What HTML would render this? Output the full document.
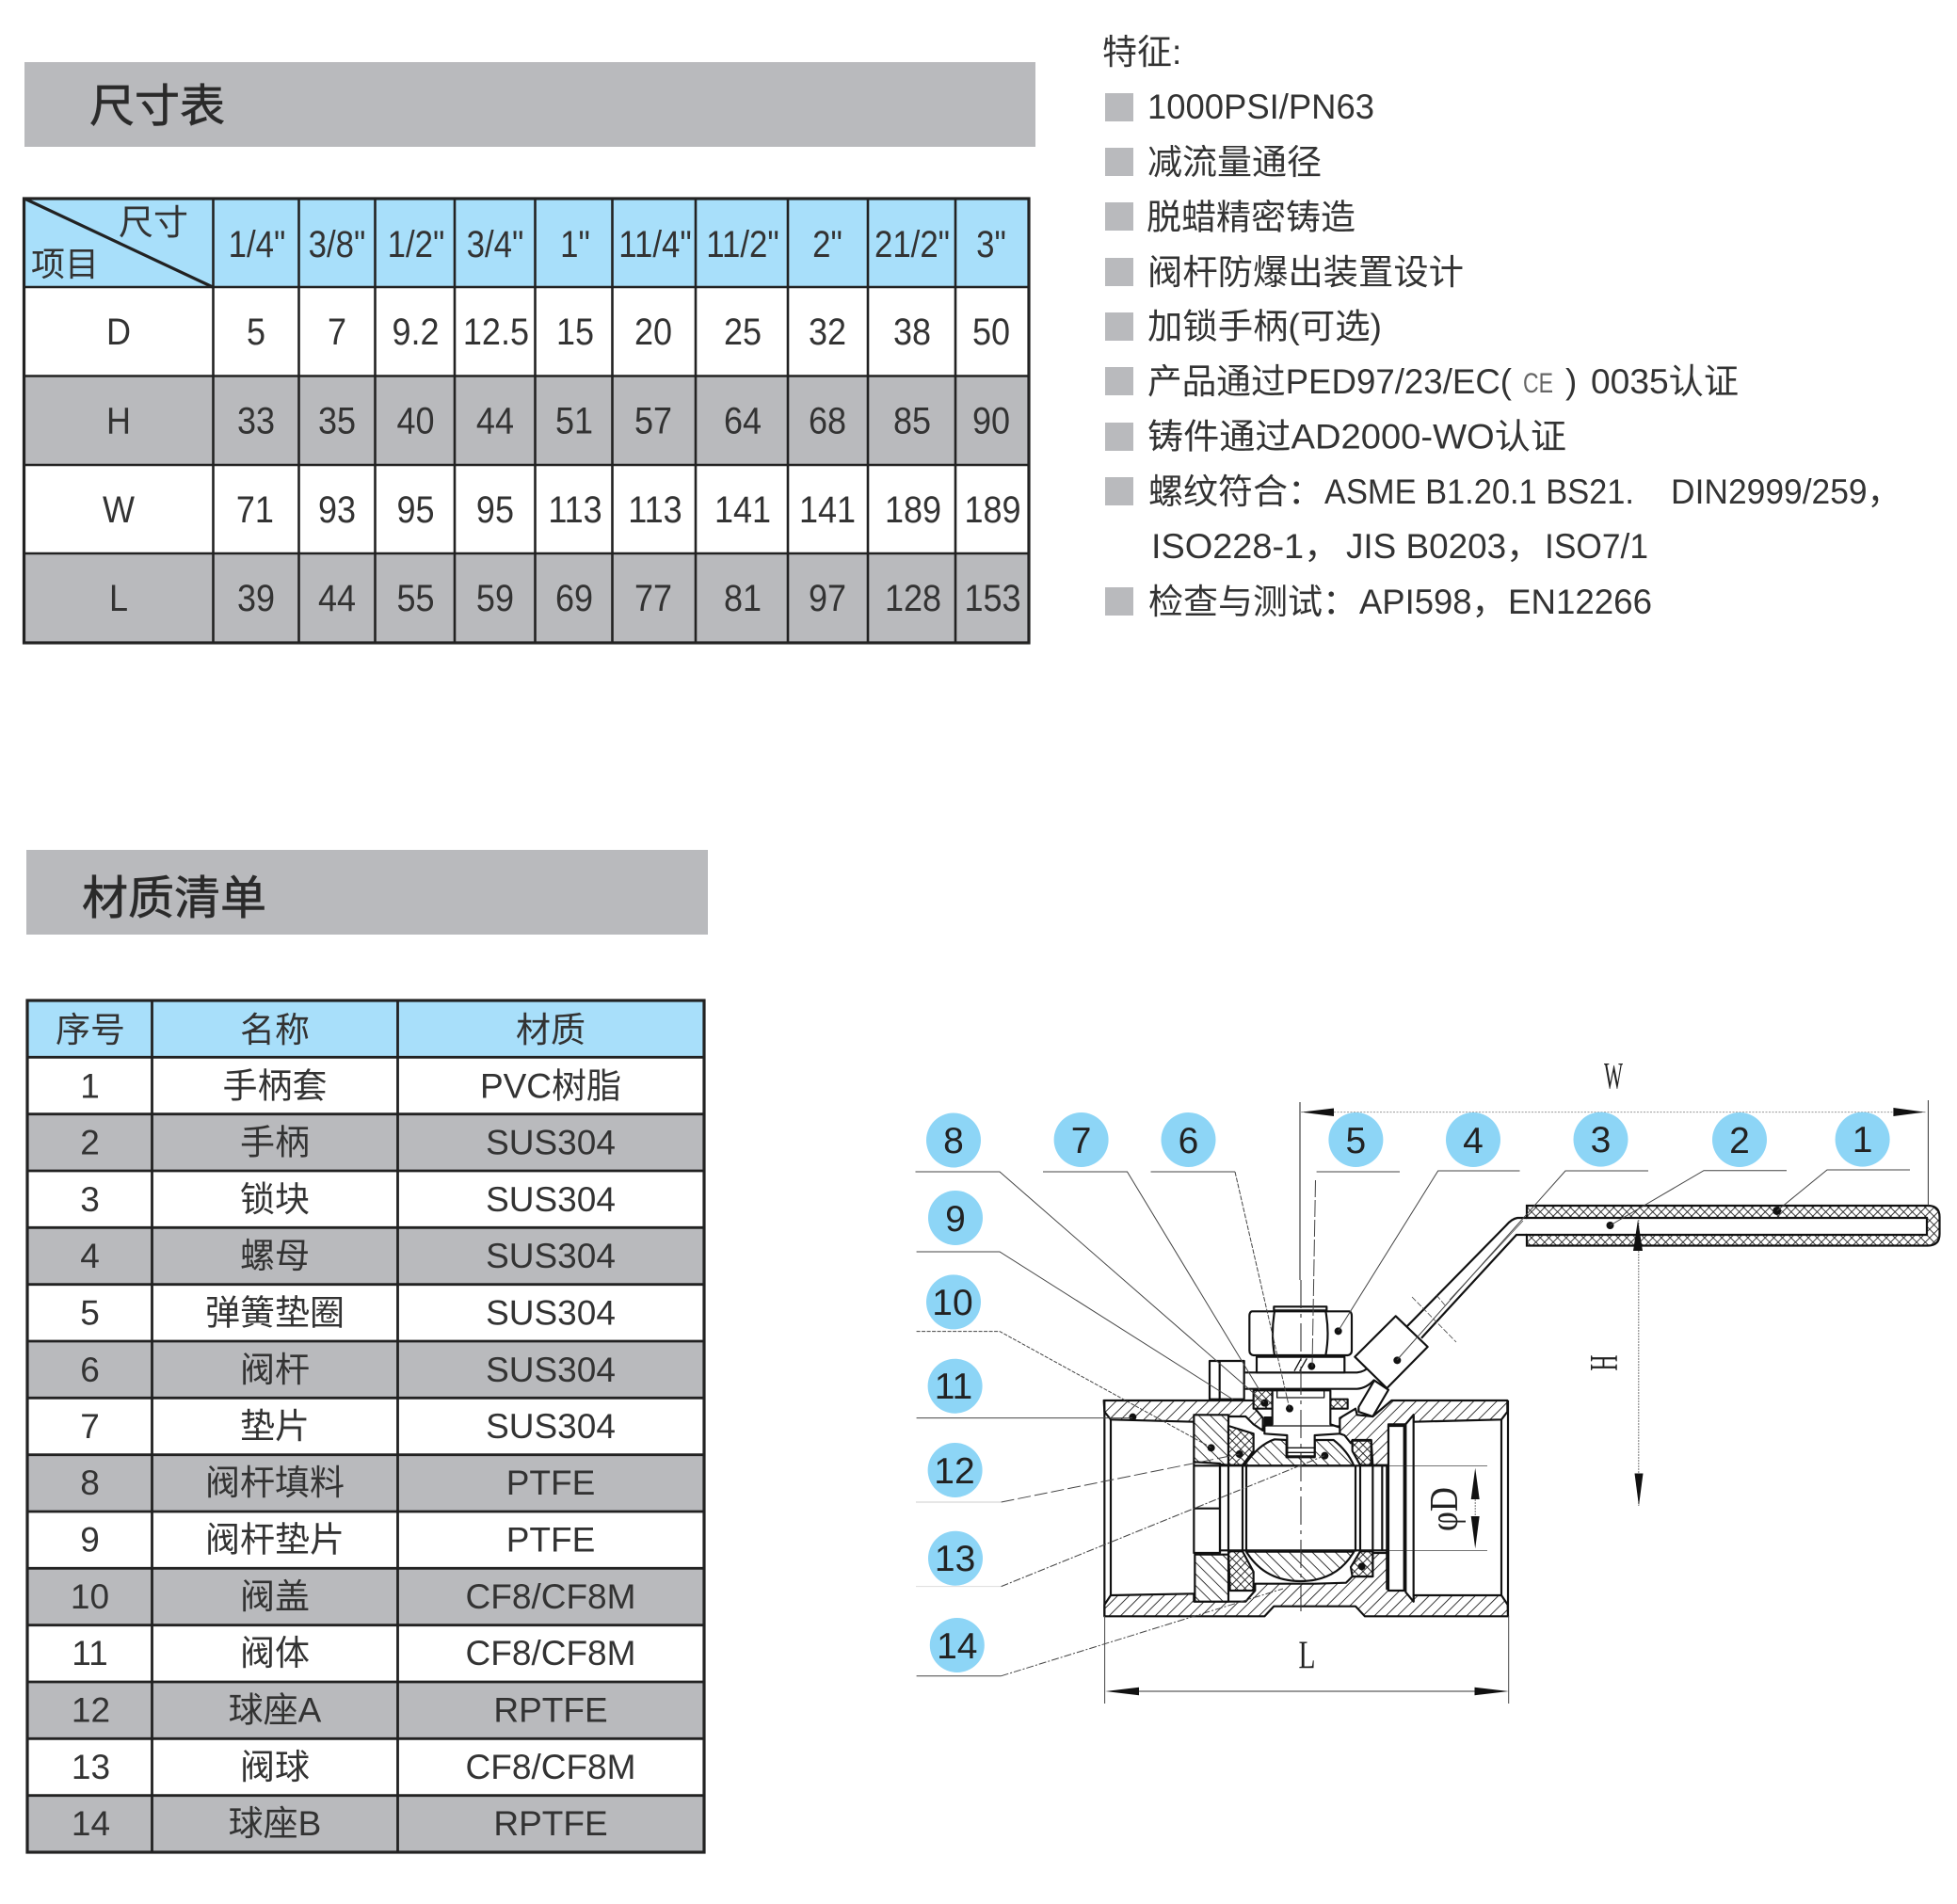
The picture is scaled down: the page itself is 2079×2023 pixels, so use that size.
<!DOCTYPE html>
<html lang="zh">
<head>
<meta charset="utf-8">
<title>尺寸表 材质清单</title>
<style>
html,body{margin:0;padding:0;background:#fff;width:2079px;height:2023px;overflow:hidden}
svg{display:block}
text{font-family:"Liberation Sans","Noto Sans CJK SC",sans-serif;fill:#333}
.serif{font-family:"Liberation Serif",serif;fill:#222}
</style>
</head>
<body>
<svg xmlns="http://www.w3.org/2000/svg" width="2079" height="2023" viewBox="0 0 2079 2023">
<defs>
<pattern id="hf" width="26" height="26" patternUnits="userSpaceOnUse" patternTransform="rotate(-45)"><rect width="26" height="26" fill="#fff"/><line x1="0" y1="1" x2="26" y2="1" stroke="#111" stroke-width="3"/></pattern>
<pattern id="hb" width="26" height="26" patternUnits="userSpaceOnUse" patternTransform="rotate(45)"><rect width="26" height="26" fill="#fff"/><line x1="0" y1="1" x2="26" y2="1" stroke="#111" stroke-width="3"/></pattern>
<pattern id="hx" width="19" height="19" patternUnits="userSpaceOnUse" patternTransform="rotate(45)"><rect width="19" height="19" fill="#fff"/><path d="M0 1H19M1 0V19" stroke="#111" stroke-width="3"/></pattern>
<pattern id="px" width="6.5" height="6.5" patternUnits="userSpaceOnUse" patternTransform="rotate(45)"><rect width="6.5" height="6.5" fill="#fff"/><path d="M0 .4H6.5M.4 0V6.5" stroke="#222" stroke-width="1"/></pattern>
</defs>

<!-- Section bars -->
<rect x="26" y="66" width="1074" height="90" fill="#b9babd"/>
<text x="95" y="129" font-size="48" stroke="#2f2f2f" stroke-width=".7" style="fill:#2a2a2a">尺寸表</text>
<rect x="28" y="903" width="724" height="90" fill="#b9babd"/>
<text x="87" y="971" font-size="49" stroke="#2f2f2f" stroke-width=".7" style="fill:#2a2a2a">材质清单</text>

<!-- Size table -->
<rect x="26" y="211" width="1067" height="94" fill="#a8dffa"/>
<rect x="26" y="399.5" width="1067" height="94.5" fill="#b9babd"/>
<rect x="26" y="588" width="1067" height="95" fill="#b9babd"/>
<g stroke="#222" stroke-width="2.6" fill="none">
<path d="M26 305H1093M26 399.5H1093M26 494H1093M26 588H1093"/>
<path d="M226.5 211V683M317.5 211V683M398.5 211V683M483 211V683M568.5 211V683M650.5 211V683M739 211V683M837 211V683M922 211V683M1015 211V683"/>
<rect x="25.5" y="211" width="1067.5" height="472" stroke-width="3.2"/>
<line x1="26" y1="211" x2="226" y2="305" stroke-width="3.2"/>
</g>
<text x="126" y="249" font-size="37">尺寸</text>
<text x="33" y="293" font-size="36">项目</text>
<g transform="scale(.87 1)" font-size="40" text-anchor="middle">
<text y="273" text-anchor="middle"><tspan x="313.8">1/4"</tspan><tspan x="411.5">3/8"</tspan><tspan x="508">1/2"</tspan><tspan x="604.6">3/4"</tspan><tspan x="702.3">1"</tspan><tspan x="800">11/4"</tspan><tspan x="906.9">11/2"</tspan><tspan x="1010.3">2"</tspan><tspan x="1113.8">21/2"</tspan><tspan x="1210.3">3"</tspan></text>
</g>
<g transform="scale(.9 1)" font-size="40" text-anchor="middle">
<text y="366" text-anchor="middle"><tspan x="140">D</tspan><tspan x="302.2">5</tspan><tspan x="397.8">7</tspan><tspan x="490.6">9.2</tspan><tspan x="585.5">12.5</tspan><tspan x="678.9">15</tspan><tspan x="771.1">20</tspan><tspan x="876.7">25</tspan><tspan x="976.7">32</tspan><tspan x="1076.7">38</tspan><tspan x="1170">50</tspan></text>
<text y="460.5" text-anchor="middle"><tspan x="140">H</tspan><tspan x="302.2">33</tspan><tspan x="397.8">35</tspan><tspan x="490.6">40</tspan><tspan x="584.4">44</tspan><tspan x="677.8">51</tspan><tspan x="771.1">57</tspan><tspan x="876.7">64</tspan><tspan x="976.7">68</tspan><tspan x="1076.7">85</tspan><tspan x="1170">90</tspan></text>
<text y="555" text-anchor="middle"><tspan x="140">W</tspan><tspan x="301">71</tspan><tspan x="397.8">93</tspan><tspan x="490.6">95</tspan><tspan x="584.4">95</tspan><tspan x="678.9">113</tspan><tspan x="773.3">113</tspan><tspan x="876.7">141</tspan><tspan x="976.7">141</tspan><tspan x="1077.8">189</tspan><tspan x="1171.7">189</tspan></text>
<text y="649" text-anchor="middle"><tspan x="140">L</tspan><tspan x="302.2">39</tspan><tspan x="397.8">44</tspan><tspan x="490.6">55</tspan><tspan x="584.4">59</tspan><tspan x="677.8">69</tspan><tspan x="771.1">77</tspan><tspan x="876.7">81</tspan><tspan x="976.7">97</tspan><tspan x="1077.8">128</tspan><tspan x="1171.7">153</tspan></text>
</g>

<!-- Features -->
<text x="1171" y="68" font-size="37">特征:</text>
<g fill="#b9babd">
<rect x="1174" y="99" width="30" height="30"/><rect x="1174" y="157" width="30" height="30"/><rect x="1174" y="215" width="30" height="30"/><rect x="1174" y="274" width="30" height="30"/><rect x="1174" y="332" width="30" height="30"/><rect x="1174" y="390" width="30" height="30"/><rect x="1174" y="449" width="30" height="30"/><rect x="1174" y="507" width="30" height="30"/><rect x="1174" y="624" width="30" height="30"/>
</g>
<g font-size="37">
<text x="1219" y="126" textLength="241" lengthAdjust="spacingAndGlyphs">1000PSI/PN63</text>
<text x="1219" y="185">减流量通径</text>
<text x="1218" y="243.5">脱蜡精密铸造</text>
<text x="1219" y="302" textLength="336" lengthAdjust="spacingAndGlyphs">阀杆防爆出装置设计</text>
<text x="1219" y="359.5" textLength="249" lengthAdjust="spacingAndGlyphs">加锁手柄(可选)</text>
<text x="1219" y="418" textLength="387" lengthAdjust="spacingAndGlyphs">产品通过PED97/23/EC(</text>
<text x="1618" y="417" font-size="30" textLength="32" lengthAdjust="spacingAndGlyphs" style="fill:#666">CE</text>
<text x="1663" y="418">)</text>
<text x="1690" y="418" textLength="157" lengthAdjust="spacingAndGlyphs">0035认证</text>
<text x="1219" y="476.5" textLength="445" lengthAdjust="spacingAndGlyphs">铸件通过AD2000-WO认证</text>
<text x="1220" y="535">螺纹符合：</text>
<text x="1407" y="535" textLength="329" lengthAdjust="spacingAndGlyphs">ASME B1.20.1 BS21.</text>
<text x="1775" y="535" textLength="244" lengthAdjust="spacingAndGlyphs">DIN2999/259，</text>
<text x="1223" y="593" textLength="200" lengthAdjust="spacingAndGlyphs">ISO228-1，</text>
<text x="1430" y="593" textLength="207" lengthAdjust="spacingAndGlyphs">JIS B0203，</text>
<text x="1641" y="593" textLength="110" lengthAdjust="spacingAndGlyphs">ISO7/1</text>
<text x="1220" y="652">检查与测试：</text>
<text x="1444" y="652" textLength="156" lengthAdjust="spacingAndGlyphs">API598，</text>
<text x="1602" y="652" textLength="153" lengthAdjust="spacingAndGlyphs">EN12266</text>
</g>

<!-- Materials table -->
<rect x="29" y="1063" width="719" height="60.3" fill="#a8dffa"/>
<g fill="#b9babd">
<rect x="29" y="1183.7" width="719" height="60.3"/><rect x="29" y="1304.3" width="719" height="60.4"/><rect x="29" y="1425" width="719" height="60.3"/><rect x="29" y="1545.7" width="719" height="60.3"/><rect x="29" y="1666.3" width="719" height="60.4"/><rect x="29" y="1787" width="719" height="60.3"/><rect x="29" y="1907.7" width="719" height="60.3"/>
</g>
<g stroke="#222" stroke-width="2.8" fill="none">
<path d="M29 1123.3H748M29 1183.7H748M29 1244H748M29 1304.3H748M29 1364.7H748M29 1425H748M29 1485.3H748M29 1545.7H748M29 1606H748M29 1666.3H748M29 1726.7H748M29 1787H748M29 1847.3H748M29 1907.7H748"/>
<path d="M161.5 1063V1968M422.5 1063V1968"/>
<rect x="29" y="1063" width="719" height="905" stroke-width="3.2"/>
</g>
<g font-size="37" text-anchor="middle">
<text y="1107"><tspan x="96">序号</tspan><tspan x="292">名称</tspan><tspan x="585">材质</tspan></text>
<text y="1166.5"><tspan x="95.5">1</tspan><tspan x="292">手柄套</tspan><tspan x="585">PVC树脂</tspan></text>
<text y="1226.5"><tspan x="95.5">2</tspan><tspan x="292">手柄</tspan><tspan x="585">SUS304</tspan></text>
<text y="1287"><tspan x="95.5">3</tspan><tspan x="292">锁块</tspan><tspan x="585">SUS304</tspan></text>
<text y="1347"><tspan x="95.5">4</tspan><tspan x="292">螺母</tspan><tspan x="585">SUS304</tspan></text>
<text y="1407.5"><tspan x="95.5">5</tspan><tspan x="292">弹簧垫圈</tspan><tspan x="585">SUS304</tspan></text>
<text y="1468"><tspan x="95.5">6</tspan><tspan x="292">阀杆</tspan><tspan x="585">SUS304</tspan></text>
<text y="1528"><tspan x="95.5">7</tspan><tspan x="292">垫片</tspan><tspan x="585">SUS304</tspan></text>
<text y="1588"><tspan x="95.5">8</tspan><tspan x="292">阀杆填料</tspan><tspan x="585">PTFE</tspan></text>
<text y="1648.5"><tspan x="95.5">9</tspan><tspan x="292">阀杆垫片</tspan><tspan x="585">PTFE</tspan></text>
<text y="1709"><tspan x="95.5">10</tspan><tspan x="292">阀盖</tspan><tspan x="585">CF8/CF8M</tspan></text>
<text y="1769"><tspan x="95.5">11</tspan><tspan x="292">阀体</tspan><tspan x="585">CF8/CF8M</tspan></text>
<text y="1829.5"><tspan x="96.5">12</tspan><tspan x="292">球座A</tspan><tspan x="585">RPTFE</tspan></text>
<text y="1890"><tspan x="96.5">13</tspan><tspan x="292">阀球</tspan><tspan x="585">CF8/CF8M</tspan></text>
<text y="1950"><tspan x="96.5">14</tspan><tspan x="292">球座B</tspan><tspan x="585">RPTFE</tspan></text>
</g>

<!-- Handle sleeve -->
<path d="M1622 1281H2048Q2060.5 1281 2060.5 1293V1311Q2060.5 1323.5 2048 1323.5H1622V1312H2047V1294H1622Z" fill="url(#px)" stroke="#111" stroke-width="2.2"/>
<g fill="none" stroke="#111" stroke-width="2.2">
<path d="M1622 1294H1612Q1606 1295 1600 1302L1495 1409"/>
<path d="M1622 1312H1611L1510 1421.7"/>
</g>
<path d="M1618 1297L1540 1381" stroke="#444" stroke-width=".8" fill="none"/>
<path d="M1500 1378L1547 1426M1526 1376L1536 1388" stroke="#444" stroke-width=".8" stroke-dasharray="6 2" fill="none"/>

<!-- Valve (coordinates in 1/3 px) -->
<g transform="translate(1130 1360) scale(.33333)" stroke-linejoin="round">
<g stroke="#111" stroke-width="6.5">
<path d="M128 384H610V410L635 440V480L605 460L580 435H525V458H415V452L150 445L130 420Z" fill="url(#hf)"/>
<path d="M1045 384H1414V420L1395 445L1115 452V430L1090 460H1035V590H985L980 510H920L915 520L895 495L880 490V440L930 410L935 430L985 435Z" fill="url(#hf)"/>
<path d="M130 1072V1035L150 1005L415 1000V1025H580L610 990V968L800 968L900 965L920 945H985V870H1030V985L1090 990L1115 1025V1005H1395L1415 1035L1416 1072H960L930 1040H670L640 1072Z" fill="url(#hf)"/>
<path d="M415 430H525V590L415 580Z" fill="url(#hb)"/>
<path d="M418 875H525V1025H418Z" fill="url(#hb)"/>
<path d="M415 580L498 585V870H415Z" fill="#fff"/>
<path d="M525 465L605 490V545L570 590H525Z" fill="url(#hx)"/>
<path d="M525 865H570L605 930V990H530Z" fill="url(#hx)"/>
<path d="M920 512H980V590H945L920 545Z" fill="url(#hx)"/>
<path d="M945 865H985V945H920L915 915Z" fill="url(#hx)"/>
<path d="M575 592Q620 525 672 508L710 510V565H800V510H860Q905 545 925 592Z" fill="url(#hb)"/>
<path d="M582 866H925Q870 960 755 960Q640 960 582 866Z" fill="url(#hb)"/>
<path d="M605 352H665V410H605Z" fill="url(#hx)"/>
<path d="M850 380H905V410H850Z" fill="url(#hx)"/>
<path d="M665 352H850V460L880 470V490L800 495V562H712V495L640 490V465L665 460Z" fill="#fff"/>
<path d="M680 352V375H830V352M712 535H800M712 550H800M640 465H880" fill="none" stroke-width="4"/>
<path d="M465 258H575V380H465Z" fill="#fff"/>
<path d="M497 258V380" fill="none"/>
<path d="M578 295H935Q960 292 975 275M578 347H935Q965 345 990 318" fill="none"/>
<path d="M615 245H895V295H615Z" fill="#fff"/>
<path d="M735 290L757 250M752 290L775 250" fill="none" stroke-width="4"/>
<path d="M600 100H910Q918 102 918 115V225Q918 238 905 240H605Q592 238 592 225V115Q592 102 600 100Z" fill="#fff"/>
<path d="M672 100Q660 170 672 240M835 100Q848 170 835 240" fill="none"/>
<path d="M670 85H838V97H670Z" fill="#fff"/>
<path d="M990 320L940 405V420L985 435L1035 350Z" fill="#fff"/>
<path d="M928 245L1058 115L1160 213L1030 345Z" fill="#fff"/>
<path d="M1035 465H1085V990H1035Z" fill="#fff"/>
<path d="M1090 460L1115 430V1025L1090 995Z" fill="#fff"/>
<path d="M415 728H498M150 445V1005M130 384V1072M1416 384V1072M498 590V870M525 590V865M570 592V866M582 592V866M930 592V866M945 592V866M985 590V870M1015 590V860M1030 590V870M1395 445V1005" fill="none"/>
<path d="M415 592H1035M498 862H1035" fill="none"/>
</g>
<rect x="638" y="435" width="27" height="30" fill="#111"/>
<path d="M1035 592H1350M1030 862H1350" stroke="#222" stroke-width="2" fill="none"/>
<g fill="#111">
<circle cx="220" cy="437" r="12"/><circle cx="470" cy="535" r="12"/><circle cx="560" cy="555" r="12"/><circle cx="640" cy="392" r="12"/><circle cx="720" cy="410" r="12"/><circle cx="832" cy="560" r="12"/><circle cx="950" cy="913" r="12"/><circle cx="875" cy="163" r="12"/><circle cx="790" cy="275" r="12"/><circle cx="1063" cy="256" r="12"/>
</g>
</g>
<circle cx="1710.5" cy="1302" r="4" fill="#111"/>
<circle cx="1887.7" cy="1286.5" r="4.5" fill="#111"/>

<!-- Center line -->
<path d="M1381 1171V1360" stroke="#333" stroke-width="1.1" fill="none"/>
<path d="M1382 1360V1715" stroke="#333" stroke-width="1.1" stroke-dasharray="30 6 4 6" fill="none"/>

<!-- Leaders -->
<g fill="none" stroke="#444" stroke-width="1">
<path d="M972.5 1245H1062L1343 1490"/>
<path d="M1108 1245H1197.5L1338 1477"/>
<path d="M1222.5 1245H1312"/>
<path d="M1312 1245L1370 1497" stroke-dasharray="5 1.5"/>
<path d="M1398.6 1245H1487"/>
<path d="M1397.5 1254L1394 1452" stroke-dasharray="18 3"/>
<path d="M1614.5 1244H1527.7L1421.7 1414"/>
<path d="M1751 1244H1663L1484 1445"/>
<path d="M1898 1243.7H1810L1710.5 1302"/>
<path d="M2029 1243H1941L1887.7 1286.5"/>
<path d="M973.6 1330H1062L1310 1487"/>
<path d="M973.6 1414.6H1062L1286.7 1538" stroke-dasharray="4 1.5"/>
<path d="M973.6 1506.6H1203"/>
<path d="M1063.6 1596L1316.7 1545" stroke-dasharray="14 4"/>
<path d="M973 1596H1063.6" stroke="#ccc"/>
<path d="M1063.6 1685.6L1407 1546.7" stroke-dasharray="8 2 2 2"/>
<path d="M973 1685.6H1063.6" stroke="#ddd"/>
<path d="M973.6 1780.7H1063.6"/>
<path d="M1063.6 1780.7L1363 1688" stroke-dasharray="8 2 2 2"/>
</g>

<!-- Dimensions -->
<g fill="none">
<path d="M1382 1181.6H2046" stroke="#999" stroke-width="1" stroke-dasharray="2 1.5"/>
<path d="M2048.4 1169V1281" stroke="#333" stroke-width="1"/>
<path d="M1740.8 1296V1600" stroke="#777" stroke-width="1" stroke-dasharray="2 1"/>
<path d="M1567.2 1593V1611" stroke="#777" stroke-width="1" stroke-dasharray="2 1"/>
<path d="M1210 1797H1566.5" stroke="#333" stroke-width="1.1"/>
<path d="M1173.6 1717V1810M1602.7 1717V1810" stroke="#444" stroke-width="1"/>
</g>
<g fill="#111">
<path d="M1382.5 1181.6L1417 1177.5V1186Z"/>
<path d="M2044.7 1181.6L2011.4 1177V1186Z"/>
<path d="M1740 1296L1735 1329H1745Z"/>
<path d="M1741 1600L1736.5 1565.5H1745.5Z"/>
<path d="M1567.2 1559.7L1562.7 1593H1571.7Z"/>
<path d="M1567.2 1645.4L1562.7 1611H1571.7Z"/>
<path d="M1174.3 1797L1210 1792.7V1801.3Z"/>
<path d="M1602.7 1797L1566.5 1792.7V1801.3Z"/>
</g>
<text class="serif" x="1704" y="1156.5" font-size="40" textLength="20" lengthAdjust="spacingAndGlyphs">W</text>
<text class="serif" x="1379.5" y="1772.5" font-size="42" textLength="18" lengthAdjust="spacingAndGlyphs">L</text>
<text class="serif" transform="translate(1718 1456.5) rotate(-90)" font-size="42" textLength="17" lengthAdjust="spacingAndGlyphs">H</text>
<text class="serif" transform="translate(1548 1627) rotate(-90)" font-size="42" textLength="47" lengthAdjust="spacingAndGlyphs">φD</text>

<!-- Callouts -->
<g fill="#8dd5f6">
<circle cx="1013" cy="1211.5" r="29"/><circle cx="1148.6" cy="1211" r="29"/><circle cx="1262.5" cy="1211" r="29"/><circle cx="1440.4" cy="1211" r="29"/><circle cx="1565" cy="1211" r="29"/><circle cx="1700.5" cy="1210.6" r="29"/><circle cx="1848" cy="1211" r="29"/><circle cx="1978.6" cy="1210.6" r="29"/><circle cx="1015" cy="1294" r="29"/><circle cx="1013" cy="1383.4" r="29"/><circle cx="1014.6" cy="1472.7" r="29"/><circle cx="1014.6" cy="1562" r="29"/><circle cx="1015" cy="1655.7" r="29"/><circle cx="1016.8" cy="1748" r="29"/>
</g>
<g font-size="39" text-anchor="middle">
<text x="1013" y="1225" style="fill:#222">8</text><text x="1148.6" y="1225" style="fill:#222">7</text><text x="1262.5" y="1225" style="fill:#222">6</text><text x="1440.4" y="1225" style="fill:#222">5</text><text x="1565" y="1225" style="fill:#222">4</text><text x="1700.5" y="1224" style="fill:#222">3</text><text x="1848" y="1225" style="fill:#222">2</text><text x="1978.6" y="1224" style="fill:#222">1</text><text x="1015" y="1308" style="fill:#222">9</text><text x="1012" y="1397" style="fill:#222">10</text><text x="1013" y="1486" style="fill:#222">11</text><text x="1014" y="1576" style="fill:#222">12</text><text x="1014.6" y="1669" style="fill:#222">13</text><text x="1016.8" y="1762" style="fill:#222">14</text>
</g>
</svg>
</body>
</html>
